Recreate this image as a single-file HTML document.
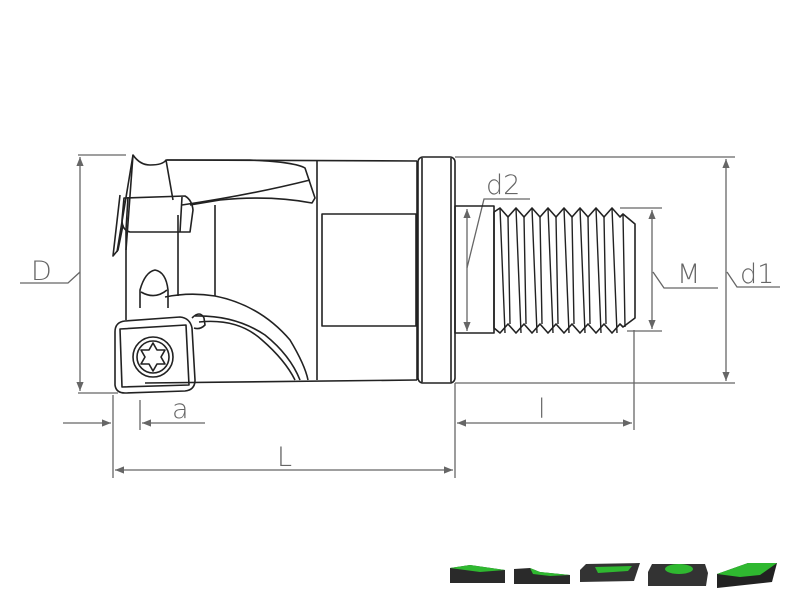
<!DOCTYPE html>
<html><head><style>body{margin:0;background:#fff}svg{display:block}</style></head><body>
<svg width="800" height="600" viewBox="0 0 800 600" xmlns="http://www.w3.org/2000/svg">
<defs>
<marker id="ar" viewBox="0 0 10 10" refX="10" refY="5" markerWidth="16" markerHeight="9" markerUnits="userSpaceOnUse" orient="auto-start-reverse"><path d="M0,1 L10,5 L0,9z" fill="#666"/></marker>
</defs>
<g stroke="#666" stroke-width="1.3" fill="none">
<line x1="78" y1="155" x2="126" y2="155"/><line x1="78" y1="393" x2="118" y2="393"/>
<line x1="80" y1="157" x2="80" y2="391" marker-start="url(#ar)" marker-end="url(#ar)"/>
<polyline points="20,283 68,283 80,272"/>
<line x1="455" y1="157" x2="735" y2="157"/><line x1="455" y1="383" x2="735" y2="383"/>
<line x1="726" y1="159" x2="726" y2="381" marker-start="url(#ar)" marker-end="url(#ar)"/>
<polyline points="727,272 737,287 780,287"/>
<line x1="620" y1="208" x2="662" y2="208"/><line x1="627" y1="331" x2="662" y2="331"/>
<line x1="652" y1="210" x2="652" y2="329" marker-start="url(#ar)" marker-end="url(#ar)"/>
<polyline points="653,272 664,288 718,288"/>
<line x1="467" y1="209" x2="467" y2="331" marker-start="url(#ar)" marker-end="url(#ar)"/>
<polyline points="467,268 484,199 530,199"/>
<line x1="455" y1="383" x2="455" y2="430"/><line x1="634" y1="330" x2="634" y2="430"/>
<line x1="457" y1="423" x2="632" y2="423" marker-start="url(#ar)" marker-end="url(#ar)"/>
<line x1="113" y1="395" x2="113" y2="478"/><line x1="455" y1="430" x2="455" y2="478"/>
<line x1="115" y1="470" x2="453" y2="470" marker-start="url(#ar)" marker-end="url(#ar)"/>
<line x1="140" y1="400" x2="140" y2="430"/>
<line x1="63" y1="423" x2="111" y2="423" marker-end="url(#ar)"/>
<line x1="205" y1="423" x2="142" y2="423" marker-end="url(#ar)"/>
</g>
<g font-family="DejaVu Sans, Liberation Sans, sans-serif" font-size="27" font-weight="200" fill="#666">
<text x="31" y="280">D</text>
<text x="740" y="283">d1</text>
<text x="677" y="283">M</text>
<text x="486" y="194">d2</text>
<text x="538" y="418">l</text>
<text x="277" y="466">L</text>
<text x="172" y="418">a</text>
</g>
<g stroke="#222" stroke-width="1.6" fill="none" stroke-linejoin="round">
<rect x="418" y="157" width="37" height="226" rx="5"/>
<line x1="422" y1="158" x2="422" y2="382"/><line x1="451" y1="158" x2="451" y2="382"/>
<line x1="417" y1="161" x2="417" y2="380"/>
<line x1="167" y1="160" x2="417" y2="161"/>
<line x1="145" y1="383" x2="417" y2="380"/>
<line x1="317" y1="161" x2="317" y2="380"/>
<rect x="322" y="214" width="94" height="112"/>
<path d="M117,252 L133,155 Q140,165 150,165 Q163,165 166,160 L250,160 Q295,162 305,168 L315,198 L312,203 Q270,195 220,200 L190,205"/>
<path d="M133,155 L126,250 M166,160 L173,200 M182,205 Q250,195 310,180"/>
<path d="M124,198 L185,196 Q192,200 193,210 L190,232 L130,232 Q122,230 122,220z"/>
<path d="M128,197 L126,230 M182,197 L180,232"/>
<path d="M120,195 L113,256 L118,250 L123,225"/>
<line x1="215" y1="205" x2="215" y2="296"/>
<line x1="178" y1="215" x2="178" y2="296"/>
<path d="M126,230 L126,320"/>
<path d="M140,308 L140,290 Q145,272 155,270 Q166,272 168,290 L168,308"/>
<path d="M141,292 Q155,300 167,290"/>
<path d="M115,332 Q115,322 125,321 L180,317 Q190,318 192,328 L195,380 Q195,390 185,391 L125,393 Q116,393 115,385z"/>
<path d="M120,329 L186,325 L189,385 L122,387z"/>
<circle cx="153" cy="357" r="20"/><circle cx="153" cy="357" r="16"/>
<path d="M153,343 L157,350 L165,350 L161,357 L165,364 L157,364 L153,371 L149,364 L141,364 L145,357 L141,350 L149,350z"/>
<path d="M192,318 Q200,310 204,318 L205,325 Q200,330 194,328"/>
<path d="M165,297 Q190,292 215,296 Q260,305 290,340 Q305,365 308,380"/>
<path d="M195,316 Q235,315 265,335 Q290,355 300,380 M199,322 Q238,318 262,340 Q285,360 295,380"/>
<rect x="455" y="206" width="39" height="127"/>
<path d="M494,212 L500,208 L508,217 L516,208 L524,217 L532,208 L540,217 L548,208 L556,217 L564,208 L572,217 L580,208 L588,217 L596,208 L604,217 L612,208 L620,217 L623,214 L635,224 L635,318 L623,327 L620,324 L612,333 L604,324 L596,333 L588,324 L580,333 L572,324 L564,333 L556,324 L548,333 L540,324 L532,333 L524,324 L516,333 L508,324 L500,333 L494,328z"/>
</g>
<g stroke="#222" stroke-width="1.4" fill="none">
<path d="M500,208 L505,333 M508,217 L510,324 M516,208 L521,333 M524,217 L526,324 M532,208 L537,333 M540,217 L542,324 M548,208 L553,333 M556,217 L558,324 M564,208 L569,333 M572,217 L574,324 M580,208 L585,333 M588,217 L590,324 M596,208 L601,333 M604,217 L606,324 M612,208 L617,333 M623,214 L625,327"/>
</g>
<g>
<path d="M450,568 L470,565 L505,570 L505,583 L450,583z" fill="#2a2a2a"/><path d="M450,568 L470,565 L505,570 L480,572z" fill="#2fb830"/>
<path d="M514,569 L530,568 L540,572 L570,575 L570,584 L514,584z" fill="#2a2a2a"/><path d="M530,568 L540,572 L570,575 L550,576 L533,574z" fill="#2fb830"/>
<path d="M580,570 L586,564 L640,563 L634,581 L580,582z" fill="#333"/><path d="M595,567 L632,566 L628,571 L598,573z" fill="#2fb830"/>
<path d="M648,572 L652,564 L705,564 L708,573 L706,586 L648,586z" fill="#333"/><ellipse cx="679" cy="569" rx="14" ry="5" fill="#2fb830"/>
<path d="M717,574 L748,563 L777,563 L772,582 L717,588z" fill="#222"/><path d="M717,574 L748,563 L777,563 L760,575 L740,577z" fill="#2fb830"/>
</g>
</svg>
</body></html>
